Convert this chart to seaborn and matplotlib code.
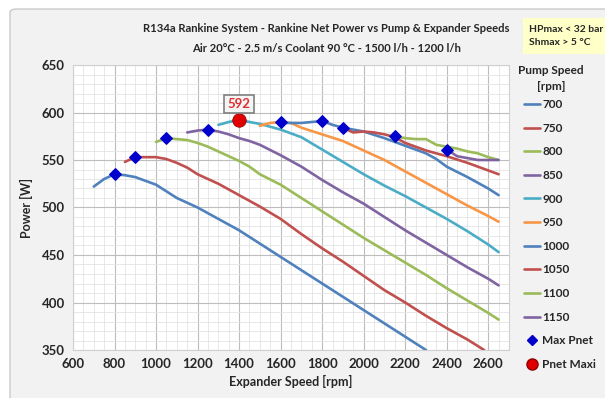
import pandas as pd
import numpy as np
import matplotlib

matplotlib.use('Agg')
import matplotlib.pyplot as plt
from matplotlib.lines import Line2D
from matplotlib.patches import FancyBboxPatch
from matplotlib.ticker import MultipleLocator
import seaborn as sns

# pump speed curves: expander speed [rpm] -> net power [W]
pump_speeds = [700, 750, 800, 850, 900, 950, 1000, 1050, 1100, 1150]

rpm_700 = [700, 750, 800, 850, 900, 950, 1000, 1050, 1100, 1150, 1200, 1300, 1400, 1500,
           1600, 1700, 1800, 1900, 2000, 2100, 2200, 2300]
pw_700 = [522, 530, 535, 534, 532, 528, 524, 517, 510, 505, 500, 488, 476, 462,
          448, 434, 420, 406, 392, 378, 364, 350]

rpm_750 = [850, 900, 950, 1000, 1050, 1100, 1150, 1200, 1300, 1400, 1500, 1600, 1700,
           1800, 1900, 2000, 2100, 2200, 2300, 2400, 2500, 2580]
pw_750 = [548, 553, 553, 553, 551, 547, 542, 535, 525, 513, 501, 488, 472,
          457, 443, 428, 413, 400, 386, 373, 361, 350]

rpm_800 = [1000, 1050, 1100, 1150, 1200, 1250, 1300, 1350, 1400, 1450, 1500, 1600, 1700,
           1800, 1900, 2000, 2100, 2200, 2300, 2400, 2500, 2600, 2650]
pw_800 = [569, 573, 572, 571, 568, 564, 559, 554, 549, 543, 535, 524, 510,
          496, 482, 468, 455, 442, 429, 415, 402, 389, 382]

rpm_850 = [1150, 1200, 1250, 1300, 1350, 1400, 1450, 1500, 1600, 1700, 1800, 1900, 2000,
           2100, 2200, 2300, 2400, 2500, 2600, 2650]
pw_850 = [579, 581, 582, 580, 577, 573, 570, 566, 555, 543, 529, 516, 504,
          490, 476, 463, 450, 437, 425, 418]

rpm_900 = [1300, 1350, 1400, 1450, 1500, 1600, 1700, 1800, 1900, 2000, 2100, 2200, 2300,
           2400, 2500, 2600, 2650]
pw_900 = [587, 590, 592, 590, 588, 582, 574, 561, 548, 535, 523, 512, 500,
          488, 475, 461, 453]

rpm_950 = [1500, 1550, 1600, 1650, 1700, 1800, 1900, 2000, 2100, 2200, 2300, 2400, 2500,
           2600, 2650]
pw_950 = [586, 589, 590, 589, 584, 577, 570, 560, 550, 538, 526, 514, 502,
          491, 485]

rpm_1000 = [1600, 1650, 1700, 1750, 1800, 1850, 1900, 1950, 2000, 2100, 2200, 2300, 2350,
            2400, 2500, 2600, 2650]
pw_1000 = [589, 589, 589, 590, 591, 587, 584, 582, 580, 573, 565, 557, 551,
           543, 532, 520, 513]

rpm_1050 = [1900, 1950, 2000, 2050, 2100, 2150, 2200, 2300, 2400, 2500, 2600, 2650]
pw_1050 = [584, 579, 580, 579, 577, 574, 568, 560, 554, 547, 539, 535]

rpm_1100 = [2150, 2200, 2250, 2300, 2350, 2400, 2450, 2500, 2550, 2600, 2650]
pw_1100 = [575, 573, 572, 572, 566, 564, 562, 559, 557, 553, 550]

rpm_1150 = [2400, 2450, 2500, 2550, 2600, 2650]
pw_1150 = [561, 554, 552, 550, 550, 550]

# max net power point of each curve
max_rpm = [800, 900, 1050, 1250, 1400, 1600, 1800, 1900, 2150, 2400]
max_pw = [535, 553, 573, 582, 592, 590, 591, 584, 575, 561]

# overall maximum
best_rpm = 1400
best_pw = 592

curves = [(rpm_700, pw_700), (rpm_750, pw_750), (rpm_800, pw_800), (rpm_850, pw_850),
          (rpm_900, pw_900), (rpm_950, pw_950), (rpm_1000, pw_1000), (rpm_1050, pw_1050),
          (rpm_1100, pw_1100), (rpm_1150, pw_1150)]

frames = []
for sp, (r, p) in zip(pump_speeds, curves):
    frames.append(pd.DataFrame({'pump': str(sp), 'rpm': r, 'power': p}))
df = pd.concat(frames, ignore_index=True)

xl_colors = ['#4F81BD', '#C0504D', '#9BBB59', '#8064A2', '#4BACC6', '#F79646']
palette = [xl_colors[i % 6] for i in range(len(pump_speeds))]

sns.set_style('white')
plt.rcParams['font.family'] = ['Lato', 'DejaVu Sans']

fig = plt.figure(figsize=(6.05, 3.98), dpi=100)
fig.patch.set_facecolor('white')
bg = FancyBboxPatch((10 / 605, -0.05), 1.0, 1.05 - 9 / 398, boxstyle='round,pad=0,rounding_size=0.01',
                    transform=fig.transFigure, facecolor='#F2F2F2', edgecolor='#BFBFBF', lw=0.8,
                    zorder=-5)
fig.patches.append(bg)

ax = fig.add_axes([73 / 605, 1 - 350 / 398, (509 - 73) / 605, (350 - 65) / 398])
ax.set_zorder(2)
ax.set_facecolor('white')

sns.lineplot(data=df, x='rpm', y='power', hue='pump', palette=palette, linewidth=1.9,
             legend=False, ax=ax, sort=False, zorder=3)
ax.scatter(max_rpm, max_pw, marker='D', s=34, color='#0000CC', zorder=5)
ax.scatter([best_rpm], [best_pw], marker='o', s=95, color='#E00000', edgecolor='#900000',
           lw=0.5, zorder=6)
ax.annotate(str(best_pw), xy=(best_rpm, best_pw), xytext=(best_rpm, best_pw + 17),
            ha='center', va='center', color='#E03030', fontsize=9.5, fontweight='bold',
            bbox=dict(boxstyle='square,pad=0.25', facecolor='#F5F5F5', edgecolor='#808080', lw=1.2),
            zorder=7)

ax.set_xlim(600, 2700)
ax.set_ylim(350, 650)
ax.xaxis.set_major_locator(MultipleLocator(200))
ax.xaxis.set_minor_locator(MultipleLocator(50))
ax.yaxis.set_major_locator(MultipleLocator(50))
ax.yaxis.set_minor_locator(MultipleLocator(10))
ax.set_xticks(np.arange(600, 2700, 200))
ax.grid(which='major', color='#BDBDBD', lw=0.8, zorder=1)
ax.grid(which='minor', color='#E4E4E4', lw=0.6, zorder=1)
ax.set_axisbelow(True)
for s in ax.spines.values():
    s.set_color('#D0D0D0')
    s.set_linewidth(0.8)
ax.tick_params(which='both', length=0, labelsize=9.5, pad=6)
for lab in ax.get_xticklabels() + ax.get_yticklabels():
    lab.set_fontweight('bold')
ax.set_xlabel('Expander Speed [rpm]', fontsize=9, fontweight='bold', labelpad=3)
ax.set_ylabel('Power [W]', fontsize=9, fontweight='bold', labelpad=6)

fig.text(326 / 605, 1 - 29 / 398, 'R134a Rankine System - Rankine Net Power vs Pump & Expander Speeds',
         ha='center', va='center', fontsize=8.1, fontweight='bold')
fig.text(326 / 605, 1 - 48 / 398, 'Air 20°C - 2.5 m/s Coolant 90 °C - 1500 l/h - 1200 l/h',
         ha='center', va='center', fontsize=8.1, fontweight='bold')
fig.text(529 / 605, 1 - 36 / 398, 'HPmax < 32 bar\nShmax > 5 °C', ha='left', va='center',
         fontsize=7.5, fontweight='bold', linespacing=1.7,
         bbox=dict(boxstyle='square,pad=0.6', facecolor='#FFFFC8', edgecolor='none'))

# legend title drawn as text so the spacing can follow the reference
fig.text(551 / 605, 1 - 71 / 398, 'Pump Speed', ha='center', va='center', fontsize=8.5,
         fontweight='bold')
fig.text(551 / 605, 1 - 87 / 398, '[rpm]', ha='center', va='center', fontsize=8.5,
         fontweight='bold')

handles = [Line2D([], [], color=c, lw=1.9) for c in palette]
labels = [str(s) for s in pump_speeds]
handles += [Line2D([], [], marker='D', ls='none', color='#0000CC', markersize=5),
            Line2D([], [], marker='o', ls='none', color='#E00000', markeredgecolor='#900000',
                   markersize=8)]
labels += ['Max Pnet', 'Pnet Maxi']
leg = fig.legend(handles, labels, loc='upper left',
                 bbox_to_anchor=(524 / 605, 1 - 99 / 398), frameon=False, fontsize=8.5,
                 handlelength=1.35, handletextpad=0.2, labelspacing=1.07,
                 borderaxespad=0, borderpad=0)
for t in leg.get_texts():
    t.set_fontweight('bold')

fig.savefig('out.png', dpi=100)
